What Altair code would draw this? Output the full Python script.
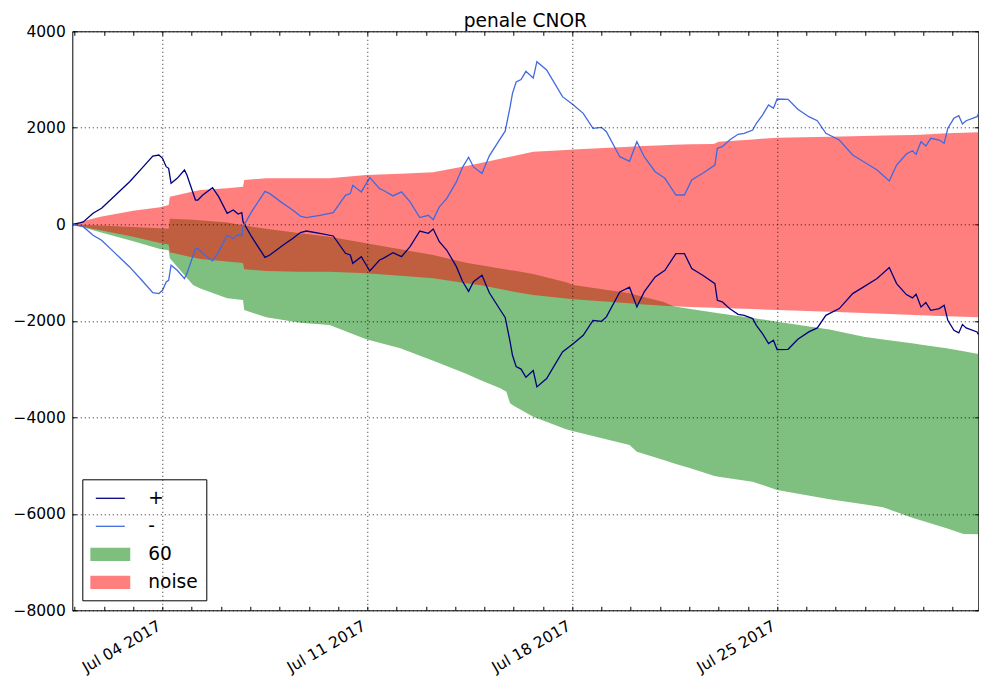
import altair as alt
import pandas as pd

START = "2017-06-30 22:00"   # first hourly sample (UTC)

# ---- line series: hours after START and values ----
line_hours = [0, 6, 9, 17, 24, 34, 47, 57, 66, 71, 74, 77, 79, 81, 86, 92, 94, 101, 103, 107,
              115, 120, 127, 132, 136, 139, 140, 147, 158, 162, 173, 181, 187, 192, 203, 214, 224, 228, 230, 237,
              244, 252, 255, 263, 270, 277, 285, 292, 296, 301, 307, 315, 320, 325, 329, 336, 342, 351, 355, 359,
              361, 364, 368, 372, 378, 381, 389, 402, 411, 419, 427, 434, 438, 449, 457, 463, 469, 478, 486, 495,
              502, 508, 517, 527, 529, 533, 539, 546, 551, 558, 561, 566, 571, 575, 578, 587, 595, 604, 611, 618,
              629, 640, 648, 660, 670, 676, 684, 689, 692, 696, 700, 704, 711, 715, 718, 723, 727, 730, 733, 742,
              743]
plus_values = [0, 30, 50, 228, 331, 572, 883, 1160, 1415, 1436, 1368, 1194, 1160, 850, 953, 1125, 1022, 503, 503, 607,
               759, 572, 228, 296, 213, 240, 54, -257, -684, -636, -429, -290, -170, -139, -187, -242, -601, -636, -808, -671,
               -968, -740, -705, -588, -671, -464, -139, -187, -97, -360, -533, -878, -1180, -1390, -1189, -1055, -1420, -1776, -1930, -2430,
               -2715, -2950, -3000, -3170, -3030, -3370, -3198, -2645, -2472, -2300, -1990, -2010, -1919, -1401, -1305, -1712, -1401, -1090, -953, -607,
               -607, -918, -1057, -1229, -1575, -1608, -1747, -1865, -1886, -1954, -2093, -2265, -2472, -2404, -2597, -2591, -2383, -2230, -2147, -1886,
               -1747, -1436, -1312, -1125, -897, -1229, -1457, -1525, -1450, -1712, -1622, -1782, -1747, -1679, -1990, -2197, -2251, -2079, -2147, -2230,
               -2286]
minus_values = [0, -30, -50, -228, -331, -572, -883, -1160, -1415, -1436, -1368, -1194, -1160, -850, -953, -1125, -1022, -503, -503, -607,
                -759, -572, -228, -296, -213, -240, -54, 257, 684, 636, 429, 290, 170, 139, 187, 242, 601, 636, 808, 671,
                968, 740, 705, 588, 671, 464, 139, 187, 97, 360, 533, 878, 1180, 1390, 1189, 1055, 1420, 1776, 1930, 2430,
                2715, 2950, 3000, 3170, 3030, 3370, 3198, 2645, 2472, 2300, 1990, 2010, 1919, 1401, 1305, 1712, 1401, 1090, 953, 607,
                607, 918, 1057, 1229, 1575, 1608, 1747, 1865, 1886, 1954, 2093, 2265, 2472, 2404, 2597, 2591, 2383, 2230, 2147, 1886,
                1747, 1436, 1312, 1125, 897, 1229, 1457, 1525, 1450, 1712, 1622, 1782, 1747, 1679, 1990, 2197, 2251, 2079, 2147, 2230,
                2286]

# ---- band series ----
band_hours = [0, 15, 23, 50, 72, 79, 80, 99, 105, 127, 140,
              141, 159, 187, 211, 241, 269, 296, 323, 334, 351, 356,
              359, 362, 378, 405, 411, 457, 463, 485, 493, 507, 526,
              530, 558, 578, 621, 649, 665, 690, 695, 717, 731, 743]
noise_upper = [0, 105, 158, 282, 352, 400, 572, 680, 711, 748, 779,
               918, 953, 954, 955, 1020, 1046, 1078, 1210, 1264, 1356, 1383,
               1399, 1415, 1505, 1540, 1548, 1608, 1617, 1640, 1650, 1658, 1664,
               1712, 1760, 1795, 1816, 1830, 1838, 1851, 1858, 1886, 1898, 1907]
noise_lower = [0, -85, -125, -260, -390, -420, -580, -690, -720, -770, -800,
               -930, -970, -982, -985, -1016, -1065, -1119, -1220, -1258, -1340, -1365,
               -1380, -1396, -1465, -1540, -1555, -1637, -1650, -1690, -1700, -1715, -1730,
               -1733, -1758, -1776, -1815, -1840, -1855, -1880, -1885, -1905, -1918, -1928]
green_upper = [0, -18, -27, -58, -83, -90, 115, 95, 85, 35, -20,
               -25, -90, -187, -260, -394, -515, -636, -795, -844, -915, -935,
               -950, -960, -1030, -1200, -1258, -1430, -1470, -1610, -1700, -1755, -1830,
               -1845, -1940, -2018, -2180, -2329, -2390, -2470, -2490, -2570, -2630, -2688]
green_lower = [0, -110, -165, -350, -510, -540, -705, -1258, -1330, -1534, -1569,
               -1776, -1928, -2039, -2087, -2380, -2570, -2830, -3100, -3220, -3400, -3470,
               -3710, -3760, -3987, -4249, -4290, -4575, -4712, -4885, -4950, -5057, -5210,
               -5231, -5335, -5507, -5699, -5800, -5865, -6090, -6129, -6301, -6419, -6425]

series_names = ["+", "-", "60", "noise"]
series_colors = ["#000080", "#4169e1", "#008000", "#ff0000"]
label_days = [4, 11, 18, 25]
minor_days = list(range(1, 32))
y_ticks = [-8000, -6000, -4000, -2000, 0, 2000, 4000]

W, H = 906, 579
FONT = "DejaVu Sans"


def stamps(hours):
    t0 = pd.Timestamp(START)
    return [(t0 + pd.Timedelta(hours=h)).strftime("%Y-%m-%dT%H:%M:%SZ") for h in hours]


lines_df = pd.DataFrame({
    "t": stamps(line_hours) * 2,
    "v": plus_values + minus_values,
    "s": ["+"] * len(line_hours) + ["-"] * len(line_hours),
})
green_df = pd.DataFrame({"t": stamps(band_hours), "hi": green_upper, "lo": green_lower, "s": "60"})
noise_df = pd.DataFrame({"t": stamps(band_hours), "hi": noise_upper, "lo": noise_lower, "s": "noise"})

xscale = alt.Scale(type="utc", nice=False, domain=[
    alt.DateTime(year=2017, month=6, date=30, hours=22, utc=True),
    alt.DateTime(year=2017, month=7, date=31, hours=21, utc=True)])
yscale = alt.Scale(domain=[-8000, 4000], nice=False, zero=False)
cscale = alt.Scale(domain=series_names, range=series_colors)

major_vals = [alt.DateTime(year=2017, month=7, date=d, utc=True) for d in label_days]
minor_vals = [alt.DateTime(year=2017, month=7, date=d, utc=True) for d in minor_days]

grid_style = dict(grid=True, gridColor="black", gridDash=[1, 3], gridWidth=1, gridOpacity=0.85)
tick_style = dict(ticks=True, tickSize=4, tickColor="black", tickWidth=1, labels=False,
                  domain=False, grid=False, title=None)

x_main = alt.Axis(orient="bottom", values=major_vals,
                  labelExpr="utcFormat(datum.value, '%b %d %Y')",
                  labelAngle=330, labelAlign="right", labelBaseline="top",
                  labelPadding=8, labelOffset=-7, labelFont=FONT, labelFontSize=15.5,
                  labelColor="black", labelOverlap=False, labelFlush=False,
                  ticks=False, domain=False, title=None, zindex=1, **grid_style)
x_ticks_bottom = alt.Axis(orient="top", offset=-H, values=minor_vals, **tick_style)
x_ticks_top = alt.Axis(orient="bottom", offset=-H, values=minor_vals, **tick_style)

y_main = alt.Axis(orient="left", values=y_ticks, format="d", labelFont=FONT,
                  labelFontSize=15.5, labelColor="black", labelPadding=7,
                  labelFlush=False, labelOverlap=False,
                  ticks=False, domain=False, title=None, zindex=1, **grid_style)
y_ticks_left = alt.Axis(orient="right", offset=-W, values=y_ticks, **tick_style)
y_ticks_right = alt.Axis(orient="left", offset=-W, values=y_ticks, **tick_style)

IS_LINE = "(datum.value === '+' || datum.value === '-')"
SHAPE = IS_LINE + " ? 'M-1.45,0H1.45' : 'M-1.93,-0.6H1.93V0.6H-1.93Z'"
FILL = "datum.value === '60' ? '#008000' : datum.value === 'noise' ? '#ff0000' : 'transparent'"
STROKE = "datum.value === '+' ? '#000080' : datum.value === '-' ? '#4169e1' : datum.value === '60' ? '#008000' : '#ff0000'"
OPAC = IS_LINE + " ? 1 : 0.5"

legend = alt.Legend(
    title=None, orient="bottom-left", offset=10, padding=8,
    fillColor="white", strokeColor="black", cornerRadius=0,
    labelFont=FONT, labelFontSize=18.6, labelColor="black",
    labelOffset=27, rowPadding=7, symbolSize=400, symbolOffset=9,
    symbolStrokeWidth=1.3,
    symbolType=alt.ExprRef(SHAPE),
    symbolFillColor=alt.ExprRef(FILL),
    symbolStrokeColor=alt.ExprRef(STROKE),
    symbolOpacity=alt.ExprRef(OPAC),
)

green = alt.Chart(green_df).mark_area(opacity=0.5).encode(
    x=alt.X("t:T", scale=xscale, axis=x_main),
    y=alt.Y("hi:Q", scale=yscale, axis=y_main),
    y2="lo:Q",
    color=alt.Color("s:N", scale=cscale, legend=legend),
)
noise = alt.Chart(noise_df).mark_area(opacity=0.5).encode(
    x=alt.X("t:T", scale=xscale, axis=x_ticks_bottom),
    y=alt.Y("hi:Q", scale=yscale, axis=y_ticks_left),
    y2="lo:Q",
    color=alt.Color("s:N", scale=cscale, legend=legend),
)
lines = alt.Chart(lines_df).mark_line(strokeWidth=1.3).encode(
    x=alt.X("t:T", scale=xscale, axis=x_ticks_top),
    y=alt.Y("v:Q", scale=yscale, axis=y_ticks_right),
    color=alt.Color("s:N", scale=cscale, legend=legend),
)

chart = alt.layer(green, noise, lines).resolve_axis(
    x="independent", y="independent"
).properties(
    width=W, height=H,
    title=alt.TitleParams("penale CNOR", font=FONT, fontSize=18.6, fontWeight="normal",
                          color="black", anchor="middle", offset=-6.5),
    autosize=alt.AutoSizeParams(type="none"),
    padding={"left": 64.3, "top": 23.3, "right": 1, "bottom": 66},
).configure_view(stroke="black", strokeWidth=1)

chart.save("out.html", embed_options={"renderer": "svg", "actions": False})
